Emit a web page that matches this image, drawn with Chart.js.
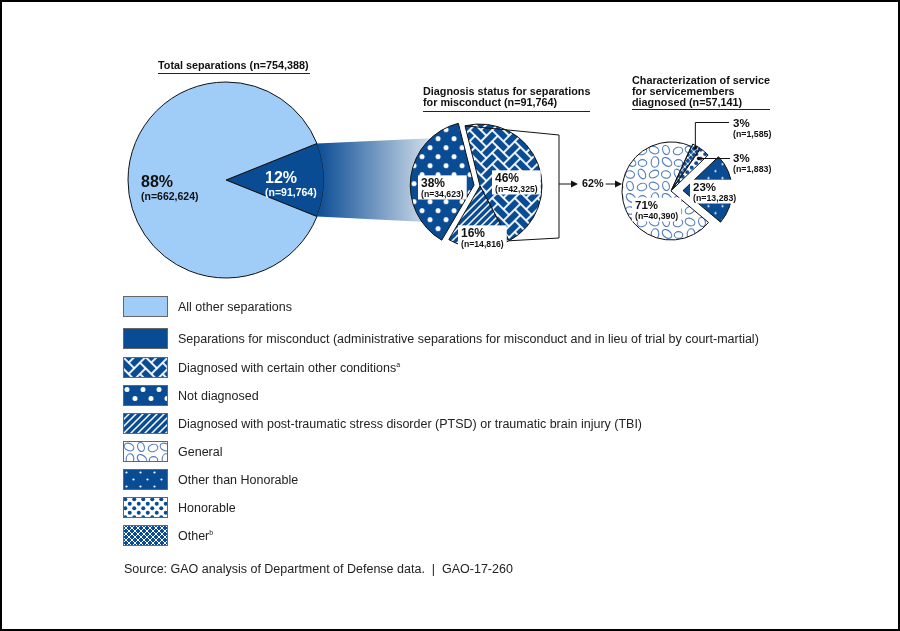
<!DOCTYPE html>
<html lang="en">
<head>
<meta charset="UTF-8">
<title>Separations for misconduct and diagnosis status</title>
<script src="https://cdn.jsdelivr.net/npm/chart.js"></script>
<style>
  body { margin: 0; background: #fff; overflow: hidden; }
  #stage { position: absolute; left: 0; top: 0; width: 900px; height: 631px; }
  #stage canvas.pie { position: absolute; left: 0; top: 0; }
  #frame { position: absolute; left: 0; top: 0; width: 900px; height: 631px; box-sizing: border-box; border: 2px solid #000; pointer-events: none; }
  .ttl { position: absolute; font: bold 10.8px/11px Arial, "Liberation Sans", sans-serif; color: #111; border-bottom: 1px solid #222; white-space: nowrap; }
  .leg { position: absolute; left: 123px; height: 21px; display: flex; align-items: center; font: 12.5px Arial, "Liberation Sans", sans-serif; color: #222; white-space: nowrap; }
  .leg canvas { width: 45px; height: 21px; margin-right: 10px; }
  .leg sup { font-size: 7px; vertical-align: 5px; }
  #source { position: absolute; left: 124px; top: 562px; font: 12.5px/14px Arial, "Liberation Sans", sans-serif; color: #222; white-space: nowrap; }
</style>
</head>
<body>
<div id="stage">
  <canvas class="pie" id="bigPie" width="900" height="631"></canvas>
  <canvas class="pie" id="diagPie" width="900" height="631"></canvas>
  <canvas class="pie" id="charPie" width="900" height="631"></canvas>
</div>
<div class="ttl" id="t1" style="left:158px; top:60px; width:152px; padding-bottom:2px;"></div>
<div class="ttl" id="t2" style="left:423px; top:86px; width:167px; padding-bottom:3px;"></div>
<div class="ttl" id="t3" style="left:632px; top:75px; width:138px; padding-bottom:1px;"></div>
<div id="legend"></div>
<div id="source">Source: GAO analysis of Department of Defense data.&nbsp; |&nbsp; GAO-17-260</div>
<div id="frame"></div>

<script>
    // ---- data ----
    const bigLabels = ['Separations for misconduct', 'All other separations'];
    const bigValues = [91764, 662624];

    const diagLabels = ['Diagnosed with certain other conditions', 'Diagnosed with PTSD or TBI', 'Not diagnosed'];
    const diagValues = [42325, 14816, 34623];

    const charLabels = ['General', 'Other', 'Honorable', 'Other than Honorable'];
    const charValues = [40390, 1585, 1883, 13283];

    const legendTexts = [
        'All other separations',
        'Separations for misconduct (administrative separations for misconduct and in lieu of trial by court-martial)',
        'Diagnosed with certain other conditions',
        'Not diagnosed',
        'Diagnosed with post-traumatic stress disorder (PTSD) or traumatic brain injury (TBI)',
        'General',
        'Other than Honorable',
        'Honorable',
        'Other'
    ];
    const legendNotes = ['', '', 'a', '', '', '', '', '', 'b'];
    const legendFills = ['light', 'navy', 'herring', 'dots', 'stripes', 'ellipses', 'smallDots', 'blueDots', 'cross'];

    // ---- styles ----
    const W = 900, H = 631;
    const NAVY = '#0a4c94';
    const LIGHT = '#a0cdf8';
    const ELLIPSE = '#4f7cc0';
    const FONT = 'Arial, "Liberation Sans", sans-serif';
    const LEGEND_TOPS = [296, 328, 357, 385, 413, 441, 469, 497, 525];

    const sum = arr => arr.reduce((s, v) => s + v, 0);
    const fmt = v => v.toLocaleString('en-US');

    // ---- fill patterns ----
    function makeTile(w, h, bg, draw) {
        const c = document.createElement('canvas');
        c.width = w; c.height = h;
        const g = c.getContext('2d');
        g.fillStyle = bg;
        g.fillRect(0, 0, w, h);
        draw(g);
        return c;
    }
    function dotsAt(g, pts, r, color) {
        g.fillStyle = color;
        pts.forEach(([x, y]) => { g.beginPath(); g.arc(x, y, r, 0, Math.PI * 2); g.fill(); });
    }
    function segs(g, list, width, color) {
        g.strokeStyle = color;
        g.lineWidth = width;
        g.beginPath();
        list.forEach(([a, b, c, d]) => { g.moveTo(a, b); g.lineTo(c, d); });
        g.stroke();
    }

    const S = 8; // herringbone brick short side
    const tiles = {
        herring: { rotate: 45, tile: makeTile(4 * S, 4 * S, NAVY, g => {
            g.strokeStyle = '#fff';
            g.lineWidth = 1.4;
            for (let a = -5; a <= 5; a++) {
                for (let b = -3; b <= 3; b++) {
                    const ox = (a + 2 * b) * S, oy = (a - 2 * b) * S;
                    g.strokeRect(ox, oy, 2 * S, S);
                    g.strokeRect(ox + 2 * S, oy - S, S, 2 * S);
                }
            }
        }) },
        dots: { tile: makeTile(16, 18, NAVY, g => dotsAt(g, [[4, 4.5], [12, 13.5]], 2.5, '#fff')) },
        stripes: { tile: makeTile(7, 7, NAVY, g => segs(g, [[-8, 8, 1, -1], [-1, 8, 8, -1], [6, 8, 15, -1]], 1.5, '#fff')) },
        ellipses: { tile: makeTile(36, 36, '#fff', g => {
            g.strokeStyle = ELLIPSE;
            g.lineWidth = 1.1;
            [[6, 6, 5.0, 3.6, 0.4], [18, 6, 4.6, 3.3, 1.3], [30, 7, 4.8, 3.7, -0.3],
             [7, 18, 3.8, 5.2, 0.1], [19, 18, 5.4, 3.6, 0.7], [30.5, 19, 4.2, 3.4, 0],
             [6, 30, 5.0, 3.5, -0.5], [18, 30.5, 4.5, 3.7, 0.2], [30, 30, 5.2, 3.3, 1.1]]
                .forEach(([x, y, rx, ry, rot]) => { g.beginPath(); g.ellipse(x, y, rx, ry, rot, 0, Math.PI * 2); g.stroke(); });
        }) },
        smallDots: { tile: makeTile(14, 14, NAVY, g => dotsAt(g, [[3.5, 3.5], [10.5, 10.5]], 1.1, '#fff')) },
        blueDots: { tile: makeTile(9, 9, '#fff', g => dotsAt(g, [[2.25, 2.25], [6.75, 6.75]], 2, NAVY)) },
        cross: { tile: makeTile(6, 6, NAVY, g => segs(g, [
            [-7, -1, 1, 7], [-1, -1, 7, 7], [5, -1, 13, 7],
            [-7, 7, 1, -1], [-1, 7, 7, -1], [5, 7, 13, -1]], 1, '#fff')) }
    };

    function fillFor(ctx, key) {
        if (key === 'light') return LIGHT;
        if (key === 'navy') return NAVY;
        const t = tiles[key];
        const p = ctx.createPattern(t.tile, 'repeat');
        if (t.rotate) p.setTransform(new DOMMatrix().rotate(t.rotate));
        return p;
    }

    // ---- plugins ----
    const sliceLabels = {
        id: 'sliceLabels',
        afterDatasetsDraw(chart, args, opts) {
            const ctx = chart.ctx;
            const meta = chart.getDatasetMeta(0);
            const values = chart.data.datasets[0].data;
            const total = sum(values);
            opts.items.forEach((it, i) => {
                const arc = meta.data[i];
                const x = arc.x + it.dx, y = arc.y + it.dy;
                const pct = Math.round(values[i] / total * 100) + '%';
                const n = '(n=' + fmt(values[i]) + ')';
                const pctFont = `bold ${opts.pctSize}px ${FONT}`;
                const nFont = `bold ${opts.nSize}px ${FONT}`;
                ctx.save();
                ctx.font = pctFont;
                const w1 = ctx.measureText(pct).width;
                ctx.font = nFont;
                const w2 = ctx.measureText(n).width;
                if (it.box) {
                    ctx.fillStyle = '#fff';
                    const top = y - opts.pctSize * 0.72 - 3;
                    ctx.fillRect(x - 3, top, Math.max(w1, w2) + 6, opts.pctSize * 0.72 + opts.gap + 6);
                }
                if (it.leader) {
                    const mid = (arc.startAngle + arc.endAngle) / 2;
                    const shift = (arc.options.offset || 0) / 4;
                    const ax = arc.x + Math.cos(mid) * (shift + arc.outerRadius * it.leader.k);
                    const ay = arc.y + Math.sin(mid) * (shift + arc.outerRadius * it.leader.k);
                    ctx.strokeStyle = '#111';
                    ctx.fillStyle = '#111';
                    ctx.lineWidth = 1;
                    ctx.beginPath();
                    ctx.moveTo(ax, ay);
                    if (it.leader.elbow) {
                        const ly = y - 4.5;
                        ctx.lineTo(ax, ly);
                        ctx.lineTo(x - 4, ly);
                    } else {
                        ctx.lineTo(x - 3, ay);
                    }
                    ctx.stroke();
                    ctx.beginPath();
                    ctx.arc(ax, ay, 1.8, 0, Math.PI * 2);
                    ctx.fill();
                }
                ctx.fillStyle = it.color || '#111';
                ctx.font = pctFont;
                ctx.fillText(pct, x, y);
                ctx.font = nFont;
                ctx.fillText(n, x, y + opts.gap);
                ctx.restore();
            });
        }
    };

    // gradient "zoom" band from the misconduct slice to the diagnosis pie
    const funnel = {
        id: 'funnel',
        beforeDatasetsDraw(chart) {
            const big = bigChart.getDatasetMeta(0).data[0];
            const target = chart.getDatasetMeta(0).data[2];
            const R = big.outerRadius;
            const p1 = [big.x + R * Math.cos(big.startAngle), big.y + R * Math.sin(big.startAngle)];
            const p2 = [big.x + R * Math.cos(big.endAngle), big.y + R * Math.sin(big.endAngle)];
            const mid = (target.startAngle + target.endAngle) / 2;
            const sh = (target.options.offset || 0) / 4;
            const tx = target.x + Math.cos(mid) * sh, ty = target.y + Math.sin(mid) * sh;
            const r = target.outerRadius - 2;
            const a1 = -128 * Math.PI / 180, a2 = 142 * Math.PI / 180;
            const q1 = [tx + r * Math.cos(a1), ty + r * Math.sin(a1)];
            const q2 = [tx + r * Math.cos(a2), ty + r * Math.sin(a2)];
            const ctx = chart.ctx;
            ctx.save();
            const grad = ctx.createLinearGradient(p1[0], 0, Math.max(q1[0], q2[0]), 0);
            grad.addColorStop(0, NAVY);
            grad.addColorStop(1, '#dde6f0');
            ctx.fillStyle = grad;
            ctx.beginPath();
            ctx.moveTo(p1[0], p1[1]);
            ctx.lineTo(q1[0], q1[1]);
            ctx.lineTo(tx, ty);
            ctx.lineTo(q2[0], q2[1]);
            ctx.lineTo(p2[0], p2[1]);
            ctx.arc(big.x, big.y, R, big.endAngle, big.startAngle, true);
            ctx.closePath();
            ctx.fill();
            ctx.restore();
        }
    };

    // bracket around the diagnosed slices and the "62%" arrows
    const connectors = {
        id: 'connectors',
        afterDraw(chart, args, opts) {
            const ctx = chart.ctx;
            const a0 = diagChart.getDatasetMeta(0).data[0];
            const cx = a0.x, cy = a0.y, r = a0.outerRadius;
            const top = [cx + r * Math.cos(a0.startAngle), cy + r * Math.sin(a0.startAngle)];
            const bot = [cx + r * Math.cos(a0.endAngle), cy + r * Math.sin(a0.endAngle)];
            const bx = cx + opts.bracketDx, by0 = cy + opts.bracketTop, by1 = cy + opts.bracketBottom;
            const ay = cy + opts.arrowDy;
            const right = chart.getDatasetMeta(0).data[0];
            const edge = right.x - right.outerRadius;
            const share = Math.round((diagValues[0] + diagValues[1]) / sum(diagValues) * 100) + '%';

            ctx.save();
            ctx.strokeStyle = '#111';
            ctx.fillStyle = '#111';
            ctx.lineWidth = 1;
            ctx.beginPath();
            ctx.moveTo(top[0], top[1]);
            ctx.lineTo(bx, by0);
            ctx.lineTo(bx, by1);
            ctx.lineTo(bot[0], bot[1]);
            ctx.stroke();

            ctx.font = `bold 10.8px ${FONT}`;
            const tw = ctx.measureText(share).width;
            const tx = bx + 23;
            ctx.textBaseline = 'middle';
            ctx.fillText(share, tx, ay + 0.5);

            const arrow = (x0, x1) => {
                ctx.beginPath();
                ctx.moveTo(x0, ay);
                ctx.lineTo(x1 - 5, ay);
                ctx.stroke();
                ctx.beginPath();
                ctx.moveTo(x1, ay);
                ctx.lineTo(x1 - 7, ay - 3.5);
                ctx.lineTo(x1 - 7, ay + 3.5);
                ctx.closePath();
                ctx.fill();
            };
            arrow(bx, tx - 4);
            arrow(tx + tw + 2, edge);
            ctx.restore();
        }
    };

    // ---- charts ----
    function padAround(cx, cy, s) {
        return { left: cx - s, top: cy - s, right: W - cx - s, bottom: H - cy - s };
    }
    function pieConfig(canvasId, labels, values, fills, opts) {
        const ctx = document.getElementById(canvasId).getContext('2d');
        return new Chart(ctx, {
            type: 'pie',
            data: {
                labels: labels,
                datasets: [{
                    data: values,
                    backgroundColor: fills.map(f => fillFor(ctx, f)),
                    borderColor: '#111',
                    borderWidth: 1,
                    offset: opts.offset,
                    hoverOffset: 0,
                    radius: opts.radius
                }]
            },
            options: {
                responsive: false,
                animation: false,
                events: [],
                rotation: opts.rotation,
                layout: { padding: padAround(opts.cx, opts.cy, opts.radius + 14) },
                plugins: {
                    legend: { display: false },
                    tooltip: { enabled: false },
                    sliceLabels: opts.labels,
                    connectors: opts.connectors || {}
                }
            },
            plugins: opts.plugins
        });
    }

    const bigChart = pieConfig('bigPie', bigLabels, bigValues, ['navy', 'light'], {
        cx: 226, cy: 180, radius: 98,
        rotation: 90 - 180 * bigValues[0] / sum(bigValues),
        offset: [0, 0],
        plugins: [sliceLabels],
        labels: {
            pctSize: 16, nSize: 10.5, gap: 12.5,
            items: [
                { dx: 39, dy: 3, color: '#fff' },
                { dx: -85, dy: 7 }
            ]
        }
    });

    const diagChart = pieConfig('diagPie', diagLabels, diagValues, ['herring', 'stripes', 'dots'], {
        cx: 480, cy: 186, radius: 62,
        rotation: -14,
        offset: [0, 0, 24],
        plugins: [funnel, sliceLabels],
        labels: {
            pctSize: 12, nSize: 8.7, gap: 9.5,
            items: [
                { dx: 15, dy: -4, box: true },
                { dx: -19, dy: 51, box: true },
                { dx: -59, dy: 1, box: true }
            ]
        }
    });

    const charChart = pieConfig('charPie', charLabels, charValues, ['ellipses', 'cross', 'blueDots', 'smallDots'], {
        cx: 671, cy: 191, radius: 49,
        rotation: 130,
        offset: [0, 6, 6, 48],
        plugins: [sliceLabels, connectors],
        labels: {
            pctSize: 11.5, nSize: 8.8, gap: 9.5,
            items: [
                { dx: -36, dy: 18, box: true },
                { dx: 62, dy: -64, leader: { k: 0.98, elbow: true } },
                { dx: 62, dy: -29, leader: { k: 0.84 } },
                { dx: 22, dy: 0, box: true }
            ]
        },
        connectors: { bracketDx: 79, bracketTop: -51, bracketBottom: 52, arrowDy: -2 }
    });

    // ---- titles ----
    document.getElementById('t1').textContent = 'Total separations (n=' + fmt(sum(bigValues)) + ')';
    document.getElementById('t2').innerHTML = 'Diagnosis status for separations<br>for misconduct (n=' + fmt(sum(diagValues)) + ')';
    document.getElementById('t3').innerHTML = 'Characterization of service<br>for servicemembers<br>diagnosed (n=' + fmt(sum(charValues)) + ')';

    // ---- legend ----
    const legend = document.getElementById('legend');
    legendTexts.forEach((text, i) => {
        const row = document.createElement('div');
        row.className = 'leg';
        row.style.top = LEGEND_TOPS[i] + 'px';
        const sw = document.createElement('canvas');
        sw.width = 45; sw.height = 21;
        const g = sw.getContext('2d');
        g.fillStyle = fillFor(g, legendFills[i]);
        g.fillRect(0, 0, 45, 21);
        g.strokeStyle = '#666';
        g.lineWidth = 1;
        g.strokeRect(0.5, 0.5, 44, 20);
        row.appendChild(sw);
        const span = document.createElement('span');
        span.textContent = text;
        if (legendNotes[i]) {
            const sup = document.createElement('sup');
            sup.textContent = legendNotes[i];
            span.appendChild(sup);
        }
        row.appendChild(span);
        legend.appendChild(row);
    });
</script>
</body>
</html>
